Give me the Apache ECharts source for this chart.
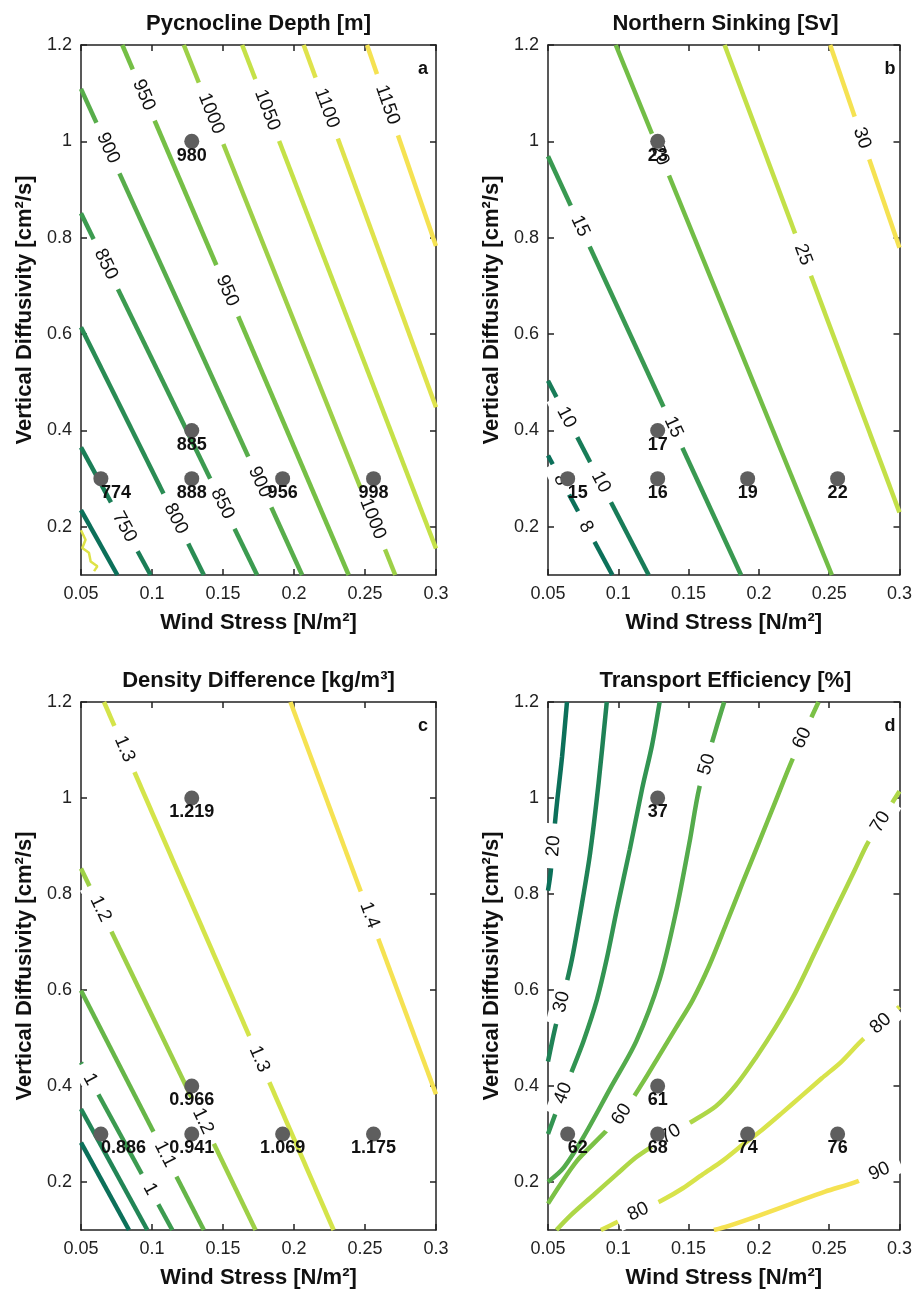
<!DOCTYPE html>
<html>
<head>
<meta charset="utf-8">
<script src="https://cdn.jsdelivr.net/npm/echarts@6.0.0/dist/echarts.min.js"></script>
<style>
html,body{margin:0;padding:0;background:#ffffff;}
#chart{width:915px;height:1290px;}
</style>
</head>
<body>
<div id="chart"></div>
<script>
// ---------------- data ----------------
const xTicks = [0.05, 0.1, 0.15, 0.2, 0.25, 0.3];
const yTicks = [0.2, 0.4, 0.6, 0.8, 1, 1.2];

// experiment positions (wind stress, vertical diffusivity)
const dotX = [0.064, 0.128, 0.192, 0.256, 0.128, 0.128];
const dotY = [0.3, 0.3, 0.3, 0.3, 0.4, 1.0];

// (a) Pycnocline depth
const depthLevels = [700, 750, 800, 850, 900, 950, 1000, 1050, 1100, 1150];
const depthLines = [
  [[0.05, 0.2345], [0.0756, 0.1]],
  [[0.05, 0.365], [0.099, 0.1]],
  [[0.05, 0.614], [0.1365, 0.1]],
  [[0.05, 0.851], [0.174, 0.1]],
  [[0.05, 1.109], [0.2057, 0.1]],
  [[0.0791, 1.2], [0.2385, 0.1]],
  [[0.1224, 1.2], [0.2713, 0.1]],
  [[0.1635, 1.2], [0.3, 0.155]],
  [[0.2068, 1.2], [0.3, 0.448]],
  [[0.2514, 1.2], [0.3, 0.783]]
];
const depthLabels = [
  [0.0942, 1.096, 950], [0.1416, 1.058, 1000], [0.1811, 1.065, 1050],
  [0.2230, 1.069, 1100], [0.2658, 1.076, 1150], [0.0690, 0.986, 900],
  [0.0675, 0.745, 850], [0.1530, 0.690, 950], [0.1759, 0.293, 900],
  [0.1496, 0.248, 850], [0.1168, 0.217, 800], [0.0805, 0.200, 750],
  [0.2555, 0.217, 1000]
];
const depthCornerNoise = [[0.05, 0.193], [0.0532, 0.173], [0.0509, 0.156], [0.0556, 0.146], [0.0568, 0.128], [0.0615, 0.118], [0.0592, 0.108]];
const depthValues = ['774', '888', '956', '998', '885', '980'];

// (b) Northern sinking
const sinkLevels = [8, 10, 15, 20, 25, 30];
const sinkLines = [
  [[0.05, 0.348], [0.0958, 0.1]],
  [[0.05, 0.503], [0.1216, 0.1]],
  [[0.05, 0.969], [0.1873, 0.1]],
  [[0.0982, 1.2], [0.2519, 0.1]],
  [[0.1756, 1.2], [0.3, 0.23]],
  [[0.2507, 1.2], [0.3, 0.779]]
];
const sinkLabels = [
  [0.0590, 0.298, 8], [0.0770, 0.200, 8], [0.0630, 0.427, 10], [0.0876, 0.293, 10],
  [0.0729, 0.824, 15], [0.1392, 0.407, 15], [0.1296, 0.972, 20], [0.2314, 0.765, 25],
  [0.2733, 1.007, 30]
];
const sinkValues = ['15', '16', '19', '22', '17', '23'];

// (c) Density difference
const densLevels = [0.8, 0.9, 1.0, 1.1, 1.2, 1.3, 1.4];
const densLines = [
  [[0.05, 0.282], [0.0838, 0.1]],
  [[0.05, 0.352], [0.0967, 0.1]],
  [[0.05, 0.449], [0.1143, 0.1]],
  [[0.05, 0.599], [0.1365, 0.1]],
  [[0.05, 0.853], [0.1729, 0.1]],
  [[0.0662, 1.2], [0.2279, 0.1]],
  [[0.1975, 1.2], [0.3, 0.383]]
];
const densLabels = [
  [0.0806, 1.102, 1.3], [0.1756, 0.456, 1.3], [0.0637, 0.769, 1.2], [0.1358, 0.327, 1.2],
  [0.1091, 0.258, 1.1], [0.0564, 0.414, 1.0], [0.0986, 0.185, 1.0], [0.2532, 0.756, 1.4]
];
const densValues = ['0.886', '0.941', '1.069', '1.175', '0.966', '1.219'];

// (d) Transport efficiency
const effLevels = [20, 30, 40, 50, 60, 70, 80, 90];
const effLines = [
  [[0.0635, 1.2], [0.0600, 1.086], [0.0565, 0.993], [0.0548, 0.943], [0.0530, 0.880], [0.0518, 0.843], [0.05, 0.807]],
  [[0.0918, 1.2], [0.0859, 1.029], [0.0800, 0.886], [0.0741, 0.779], [0.0671, 0.665], [0.0612, 0.590], [0.0550, 0.520], [0.05, 0.451]],
  [[0.1294, 1.2], [0.1240, 1.110], [0.1170, 1.020], [0.1082, 0.893], [0.0988, 0.765], [0.0918, 0.665], [0.0847, 0.579], [0.0753, 0.494], [0.0659, 0.423], [0.0588, 0.370], [0.05, 0.300]],
  [[0.1753, 1.2], [0.1694, 1.143], [0.1576, 1.021], [0.1506, 0.907], [0.1412, 0.765], [0.1294, 0.622], [0.1129, 0.494], [0.0941, 0.394], [0.0753, 0.294], [0.0612, 0.230], [0.05, 0.200]],
  [[0.2424, 1.2], [0.2235, 1.078], [0.2118, 0.993], [0.2000, 0.907], [0.1882, 0.822], [0.1765, 0.736], [0.1647, 0.651], [0.1529, 0.579], [0.1412, 0.522], [0.1294, 0.465], [0.1176, 0.408], [0.1024, 0.341], [0.0824, 0.280], [0.0706, 0.244], [0.0588, 0.195], [0.05, 0.155]],
  [[0.3, 1.014], [0.2776, 0.907], [0.2682, 0.850], [0.2541, 0.765], [0.2400, 0.679], [0.2259, 0.594], [0.2118, 0.522], [0.1976, 0.458], [0.1835, 0.401], [0.1694, 0.358], [0.1506, 0.323], [0.1365, 0.298], [0.1271, 0.280], [0.1129, 0.252], [0.0988, 0.216], [0.0824, 0.173], [0.0659, 0.130], [0.0560, 0.1]],
  [[0.3, 0.565], [0.2729, 0.494], [0.2588, 0.451], [0.2447, 0.416], [0.2306, 0.380], [0.2165, 0.344], [0.2024, 0.309], [0.1882, 0.277], [0.1741, 0.244], [0.1600, 0.216], [0.1459, 0.187], [0.1318, 0.163], [0.1141, 0.138], [0.0988, 0.116], [0.0876, 0.1]],
  [[0.3, 0.241], [0.2706, 0.202], [0.2471, 0.180], [0.2235, 0.155], [0.2000, 0.130], [0.1780, 0.108], [0.1680, 0.1]]
];
const effLabels = [
  [0.0540, 0.900, 20], [0.0598, 0.575, 30], [0.0608, 0.385, 40], [0.1630, 1.070, 50],
  [0.2308, 1.125, 60], [0.2866, 0.950, 70], [0.2866, 0.530, 80], [0.2857, 0.222, 90],
  [0.1024, 0.341, 60], [0.1370, 0.300, 70], [0.1141, 0.138, 80]
];
const effValues = ['62', '68', '74', '76', '61', '37'];

const titles = ['Pycnocline Depth [m]', 'Northern Sinking [Sv]', 'Density Difference [kg/m³]', 'Transport Efficiency [%]'];
const letters = ['a', 'b', 'c', 'd'];
const xName = 'Wind Stress [N/m²]';
const yName = 'Vertical Diffusivity [cm²/s]';

// ---------------- layout & style ----------------
const FONT = '"Liberation Sans", Arial, Helvetica, sans-serif';
const grids = [
  {left: 81, top: 45, width: 355, height: 530},
  {left: 548, top: 45, width: 355, height: 530},
  {left: 81, top: 702, width: 355, height: 529},
  {left: 548, top: 702, width: 355, height: 529}
];
const panels = [
  {levels: depthLevels, lines: depthLines, labels: depthLabels, values: depthValues},
  {levels: sinkLevels, lines: sinkLines, labels: sinkLabels, values: sinkValues},
  {levels: densLevels, lines: densLines, labels: densLabels, values: densValues},
  {levels: effLevels, lines: effLines, labels: effLabels, values: effValues, smooth: 0.3}
];
const stops = [
  [0.00, [12, 112, 90]],
  [0.30, [52, 150, 82]],
  [0.55, [115, 190, 70]],
  [0.80, [205, 228, 72]],
  [1.00, [245, 226, 82]]
];
function colorAt(t) {
  t = Math.max(0, Math.min(1, t));
  for (let i = 0; i < stops.length - 1; i++) {
    const [t0, c0] = stops[i], [t1, c1] = stops[i + 1];
    if (t <= t1) {
      const f = (t - t0) / (t1 - t0);
      const c = c0.map((v, k) => Math.round(v + (c1[k] - v) * f));
      return 'rgb(' + c.join(',') + ')';
    }
  }
  return 'rgb(' + stops[stops.length - 1][1].join(',') + ')';
}

const frame = {color: '#222', width: 1.5};
const xAxes = [], yAxes = [], series = [], titleList = [];

grids.forEach((g, i) => {
  xAxes.push({
    type: 'value', gridIndex: i, min: 0.05, max: 0.3, position: 'bottom',
    axisLine: {show: true, onZero: false, lineStyle: frame},
    axisTick: {show: true, inside: true, length: 6, customValues: xTicks, lineStyle: frame},
    axisLabel: {show: true, customValues: xTicks, formatter: v => String(v), fontSize: 18, color: '#222', fontFamily: FONT, margin: 10},
    splitLine: {show: false},
    name: xName, nameLocation: 'middle', nameGap: 37,
    nameTextStyle: {fontSize: 22, fontWeight: 'bold', color: '#111', fontFamily: FONT}
  });
  yAxes.push({
    type: 'value', gridIndex: i, min: 0.1, max: 1.2, position: 'left',
    axisLine: {show: true, onZero: false, lineStyle: frame},
    axisTick: {show: true, inside: true, length: 6, customValues: yTicks, lineStyle: frame},
    axisLabel: {show: true, customValues: yTicks, formatter: v => String(v), fontSize: 18, color: '#222', fontFamily: FONT, margin: 9},
    splitLine: {show: false},
    name: yName, nameLocation: 'middle', nameGap: 45, nameRotate: 90,
    nameTextStyle: {fontSize: 22, fontWeight: 'bold', color: '#111', fontFamily: FONT}
  });
});
grids.forEach((g, i) => {
  xAxes.push({
    type: 'value', gridIndex: i, min: 0.05, max: 0.3, position: 'top',
    axisLine: {show: true, onZero: false, lineStyle: frame},
    axisTick: {show: true, inside: true, length: 6, customValues: xTicks, lineStyle: frame},
    axisLabel: {show: false}, splitLine: {show: false}
  });
  yAxes.push({
    type: 'value', gridIndex: i, min: 0.1, max: 1.2, position: 'right',
    axisLine: {show: true, onZero: false, lineStyle: frame},
    axisTick: {show: true, inside: true, length: 6, customValues: yTicks, lineStyle: frame},
    axisLabel: {show: false}, splitLine: {show: false}
  });
  const cx = g.left + g.width / 2;
  titleList.push({
    text: titles[i], left: cx, top: g.top - 32, textAlign: 'center', padding: 0,
    textStyle: {fontSize: 22, fontWeight: 'bold', color: '#111', fontFamily: FONT}
  });
  titleList.push({
    text: letters[i], left: g.left + g.width - 13, top: g.top + 15, textAlign: 'center', padding: 0,
    textStyle: {fontSize: 18, fontWeight: 'bold', color: '#111', fontFamily: FONT}
  });
});

panels.forEach((p, i) => {
  const lo = Math.min(...p.levels), hi = Math.max(...p.levels);
  p.lines.forEach((ln, k) => {
    series.push({
      type: 'line', xAxisIndex: i, yAxisIndex: i, data: ln,
      showSymbol: false, symbol: 'none', smooth: p.smooth || false, clip: true,
      lineStyle: {width: 4.5, color: colorAt((p.levels[k] - lo) / (hi - lo)), cap: 'butt'},
      silent: true, z: 2
    });
  });
  if (i === 0) {
    series.push({
      type: 'line', xAxisIndex: 0, yAxisIndex: 0, data: depthCornerNoise,
      showSymbol: false, symbol: 'none', clip: true,
      lineStyle: {width: 2.5, color: 'rgb(222,226,70)'}, silent: true, z: 2
    });
  }
  series.push({
    id: 'lab' + i, type: 'scatter', xAxisIndex: i, yAxisIndex: i, symbolSize: 0, silent: true, z: 3,
    itemStyle: {opacity: 1},
    label: {show: true, position: 'inside', fontSize: 19, color: '#111', fontFamily: FONT, opacity: 1,
            backgroundColor: '#ffffff', padding: [1, 12]},
    labelLayout: {hideOverlap: false},
    emphasis: {disabled: true},
    data: p.labels.map(l => ({value: [l[0], l[1]], label: {formatter: String(l[2]), rotate: 0}}))
  });
  series.push({
    type: 'scatter', xAxisIndex: i, yAxisIndex: i, symbol: 'circle', symbolSize: 15, silent: true, z: 4,
    itemStyle: {color: '#5e5e5e', opacity: 1},
    label: {show: true, position: 'bottom', distance: -2, fontSize: 18, fontWeight: 'bold', color: '#111', fontFamily: FONT, opacity: 1},
    labelLayout: {hideOverlap: false},
    emphasis: {disabled: true},
    data: dotX.map((x, k) => ({
      value: [x, dotY[k]],
      label: {formatter: p.values[k], align: x < 0.1 ? 'left' : 'center'}
    }))
  });
});

const chart = echarts.init(document.getElementById('chart'), null, {renderer: 'canvas'});
chart.setOption({
  animation: false,
  backgroundColor: '#ffffff',
  title: titleList,
  grid: grids,
  xAxis: xAxes,
  yAxis: yAxes,
  series: series
});

// rotate contour labels along their contour line (in pixel space)
const updates = [];
panels.forEach((p, i) => {
  const finder = {xAxisIndex: i, yAxisIndex: i};
  const data = p.labels.map(l => {
    const line = p.lines[p.levels.indexOf(l[2])];
    const c = chart.convertToPixel(finder, [l[0], l[1]]);
    let best = Infinity, ang = 0;
    for (let k = 0; k < line.length - 1; k++) {
      const a = chart.convertToPixel(finder, line[k]);
      const b = chart.convertToPixel(finder, line[k + 1]);
      const dx = b[0] - a[0], dy = b[1] - a[1];
      const len2 = dx * dx + dy * dy || 1;
      let t = ((c[0] - a[0]) * dx + (c[1] - a[1]) * dy) / len2;
      t = Math.max(0, Math.min(1, t));
      const px = a[0] + t * dx, py = a[1] + t * dy;
      const d = Math.hypot(c[0] - px, c[1] - py);
      if (d < best) { best = d; ang = Math.atan2(-dy, dx) * 180 / Math.PI; }
    }
    while (ang > 90) ang -= 180;
    while (ang <= -90) ang += 180;
    return {value: [l[0], l[1]], label: {formatter: String(l[2]), rotate: ang}};
  });
  updates.push({id: 'lab' + i, data: data});
});
chart.setOption({series: updates});
</script>
</body>
</html>
